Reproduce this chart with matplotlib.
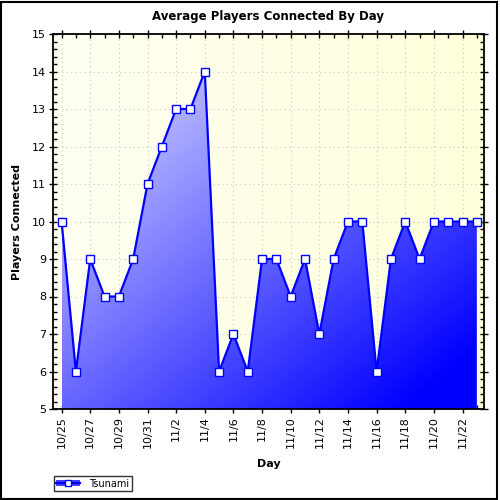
import numpy as np
import matplotlib
matplotlib.use("Agg")
import matplotlib.pyplot as plt
from matplotlib.lines import Line2D
from matplotlib.patches import Patch, Rectangle
from matplotlib.ticker import MultipleLocator

days = ['10/25', '10/26', '10/27', '10/28', '10/29', '10/30', '10/31',
        '11/1', '11/2', '11/3', '11/4', '11/5', '11/6', '11/7', '11/8',
        '11/9', '11/10', '11/11', '11/12', '11/13', '11/14', '11/15',
        '11/16', '11/17', '11/18', '11/19', '11/20', '11/21', '11/22', '11/23']
players = [10, 6, 9, 8, 8, 9, 11, 12, 13, 13, 14, 6, 7, 6, 9,
           9, 8, 9, 7, 9, 10, 10, 6, 9, 10, 9, 10, 10, 10, 10]
series_name = 'Tsunami'

x = np.arange(len(days))

fig = plt.figure(figsize=(5, 5), dpi=100)
fig.patch.set_facecolor('white')
fig.add_artist(Rectangle((0.002, 0.002), 0.992, 0.994, transform=fig.transFigure,
                         fill=False, edgecolor='black', linewidth=1.5))

ax = fig.add_axes([0.106, 0.182, 0.862, 0.75])
xmin, xmax = -0.6, 29.5
ymin, ymax = 5, 15
ax.set_xlim(xmin, xmax)
ax.set_ylim(ymin, ymax)

# yellow background gradient (whiter on the left)
bg = np.zeros((2, 256, 3))
t = np.linspace(0, 1, 256)
bg[:, :, 0] = 1.0
bg[:, :, 1] = 1.0
bg[:, :, 2] = (0.95 - 0.09 * t)[None, :]
ax.imshow(bg, extent=[xmin, xmax, ymin, ymax], aspect='auto', zorder=0,
          interpolation='bilinear')

ax.grid(True, which='major', color='#c8c8c8', linestyle=(0, (1, 3)), linewidth=0.8, zorder=1)

# gradient fill under the line
fill = ax.fill_between(x, players, ymin, facecolor='none', edgecolor='none')
gy, gx = np.mgrid[0:1:200j, 0:1:300j]
tt = np.clip(gx * 0.55 + gy * 0.55, 0, 1)
grad = np.zeros((200, 300, 3))
grad[:, :, 0] = 0.88 * (1 - tt)
grad[:, :, 1] = 0.88 * (1 - tt)
grad[:, :, 2] = 1.0
im = ax.imshow(grad, extent=[x[0], x[-1], ymin, max(players)], aspect='auto',
               origin='upper', zorder=2, interpolation='bilinear')
im.set_clip_path(fill.get_paths()[0], transform=ax.transData)
ax.set_xlim(xmin, xmax)
ax.set_ylim(ymin, ymax)

ax.plot(x, players, color='#0000ff', linewidth=1.6, marker='s', markersize=5.2,
        markerfacecolor='white', markeredgecolor='#0000ff', markeredgewidth=1,
        zorder=3, clip_on=False)

ax.set_xticks(x[::2])
ax.set_xticklabels(days[::2], rotation=90)
ax.set_xticks(x[1::2], minor=True)
ax.yaxis.set_major_locator(MultipleLocator(1))
ax.yaxis.set_minor_locator(MultipleLocator(0.2))
ax.tick_params(axis='both', which='major', direction='inout', length=6, width=1,
               labelsize=8, top=True, right=True, pad=2)
ax.tick_params(axis='both', which='minor', direction='in', length=3, width=1,
               top=True, right=True)
for sp in ax.spines.values():
    sp.set_linewidth(1.3)

ax.set_title('Average Players Connected By Day', fontsize=8.5, fontweight='bold', pad=10)
ax.set_xlabel('Day', fontsize=8, fontweight='bold', labelpad=8)
ax.set_ylabel('Players Connected', fontsize=8, fontweight='bold', labelpad=7)

handle = (Patch(facecolor='#4040ff', edgecolor='none'),
          Line2D([], [], color='#0000ff', linewidth=1.6, marker='s', markersize=5,
                 markerfacecolor='white', markeredgecolor='#0000ff'))
leg = fig.legend([handle], [series_name], loc='lower left',
                 bbox_to_anchor=(0.108, 0.018), fontsize=7, frameon=True,
                 fancybox=False, edgecolor='black', borderpad=0.25,
                 handlelength=2.4, handleheight=0.6, handletextpad=1.0,
                 borderaxespad=0)
leg.get_frame().set_linewidth(1)

fig.savefig('out.png', dpi=100)
